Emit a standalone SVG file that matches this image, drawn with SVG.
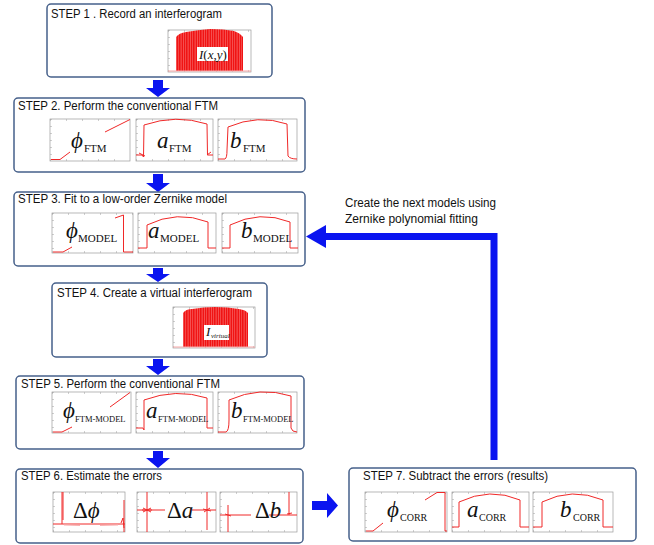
<svg xmlns="http://www.w3.org/2000/svg" width="654" height="545" viewBox="0 0 654 545">
<defs>
<style>
.box{fill:#fff;stroke:#46608a;stroke-width:1.5}
.ttl{font-family:"Liberation Sans",Arial,sans-serif;font-size:12px;fill:#111}
.fr{fill:#fff;stroke:#9a9a9a;stroke-width:0.7}
.tk{stroke:#a0a0a0;stroke-width:2;stroke-dasharray:0.5 15.5;fill:none}
.tv{stroke:#a0a0a0;stroke-width:2;stroke-dasharray:0.5 6.5;fill:none}
.cv{fill:none;stroke:#f02828;stroke-width:1}
.m{font-family:"Liberation Serif","Times New Roman","DejaVu Serif",serif;fill:#111}
.it{font-style:italic}
.big{font-size:23px}
.sub{font-size:11px}
.arr{fill:#0a14f0}
.base{stroke:#f7a8a8;stroke-width:1;fill:none}
</style>
<pattern id="fringe" patternUnits="userSpaceOnUse" width="7" height="60">
<rect width="7" height="60" fill="#f01414"/>
<rect x="1.2" y="0" width="0.5" height="60" fill="#ffc0c0" opacity="0.7"/>
<rect x="3.6" y="0" width="0.4" height="60" fill="#ffffff" opacity="0.55"/>
<rect x="5.8" y="0" width="0.5" height="60" fill="#ffc0c0" opacity="0.8"/>
</pattern>
</defs>

<g id="connectors">
<polygon class="arr" points="153,80 163,80 163,88 170,88 158,97 146,88 153,88"/>
<polygon class="arr" points="153,174 163,174 163,183 170,183 158,192 146,183 153,183"/>
<polygon class="arr" points="153,268 163,268 163,274 170,274 158,282 146,274 153,274"/>
<polygon class="arr" points="153,359 163,359 163,366 170,366 158,375 146,366 153,366"/>
<polygon class="arr" points="153,451 163,451 163,458 170,458 158,468 146,458 153,458"/>
<polygon class="arr" points="312,501 327,501 327,493 338,505.5 327,518 327,510 312,510"/>
<path d="M494,460 V236.5 H325" fill="none" stroke="#0a14f0" stroke-width="7"/>
<polygon class="arr" points="326,225 326,248 306,236.5"/>
<text class="ttl" x="345" y="207" font-size="11.5" textLength="151" lengthAdjust="spacingAndGlyphs">Create the next models using</text>
<text class="ttl" x="345" y="223" font-size="11.5" textLength="133" lengthAdjust="spacingAndGlyphs">Zernike polynomial fitting</text>
</g>

<g id="step1">
<rect class="box" x="47" y="4" width="225" height="73" rx="4"/>
<text class="ttl" x="51" y="18" textLength="171" lengthAdjust="spacingAndGlyphs">STEP 1 . Record an interferogram</text>
<rect class="fr" x="168" y="30" width="83" height="42"/>
<line class="tk" x1="168" y1="71" x2="251" y2="71"/><line class="tk" x1="168" y1="31" x2="251" y2="31"/><line class="tv" x1="169" y1="30" x2="169" y2="72"/>
<path d="M176,71 L176,37 Q179,33 186,32 Q198,30 210,29 Q224,29 234,31 Q240,33 243,37 L243,71 Z" fill="url(#fringe)"/>
<line class="base" x1="168" y1="71" x2="251" y2="71"/>
<rect x="197" y="47" width="31" height="14" fill="#fff"/>
<text class="m" x="199" y="58.5" font-size="13"><tspan class="it">I</tspan>(<tspan class="it">x</tspan>,<tspan class="it">y</tspan>)</text>
</g>

<g id="step2">
<rect class="box" x="14" y="98" width="291" height="74" rx="4"/>
<text class="ttl" x="18" y="110" textLength="200" lengthAdjust="spacingAndGlyphs">STEP 2. Perform the conventional FTM</text>
<rect class="fr" x="50" y="119" width="80" height="42"/>
<line class="tk" x1="50" y1="160" x2="130" y2="160"/><line class="tk" x1="50" y1="120" x2="130" y2="120"/><line class="tv" x1="51" y1="119" x2="51" y2="161"/>
<path class="cv" d="M51,159.5 L60,159.5 L70,152 M105,132 L130,119.5"/>
<text class="m it big" x="71" y="148">ϕ</text><text class="m sub" x="84" y="152">FTM</text>
<rect class="fr" x="136" y="119" width="77" height="42"/>
<line class="tk" x1="136" y1="160" x2="213" y2="160"/><line class="tk" x1="136" y1="120" x2="213" y2="120"/><line class="tv" x1="137" y1="119" x2="137" y2="161"/>
<path class="cv" d="M136,155 L142,155 L143.5,157 L144,125 Q176,114 207,124 L207.5,155 L213,155 M139,153 L145,156 M207,155 L211,152"/>
<text class="m it big" x="157" y="148">a</text><text class="m sub" x="169" y="152">FTM</text>
<rect class="fr" x="218" y="119" width="79" height="42"/>
<line class="tk" x1="218" y1="160" x2="297" y2="160"/><line class="tk" x1="218" y1="120" x2="297" y2="120"/><line class="tv" x1="219" y1="119" x2="219" y2="161"/>
<path class="cv" d="M218,159 L225,159 Q227,158 227,150 L228,127 Q258,114 287,124 L288,156 Q290,159 297,159"/>
<text class="m it big" x="230" y="148">b</text><text class="m sub" x="243" y="152">FTM</text>
</g>

<g id="step3">
<rect class="box" x="14" y="192" width="291" height="74" rx="4"/>
<text class="ttl" x="18" y="203" textLength="209" lengthAdjust="spacingAndGlyphs">STEP 3. Fit to a low-order Zernike model</text>
<rect class="fr" x="52" y="213" width="81" height="40"/>
<line class="tk" x1="52" y1="252" x2="133" y2="252"/><line class="tk" x1="52" y1="214" x2="133" y2="214"/><line class="tv" x1="53" y1="213" x2="53" y2="253"/>
<path class="cv" d="M53,252 L63,252 L72,247 M115,218 L123.5,215 L123.5,252 L133,252"/>
<text class="m it big" x="66" y="238">ϕ</text><text class="m sub" x="78" y="242">MODEL</text>
<rect class="fr" x="138" y="213" width="78" height="40"/>
<line class="tk" x1="138" y1="252" x2="216" y2="252"/><line class="tk" x1="138" y1="214" x2="216" y2="214"/><line class="tv" x1="139" y1="213" x2="139" y2="253"/>
<path class="cv" d="M138,248 L147,248 L147,225 Q177,210 208,222 L208,248 L216,248"/>
<text class="m it big" x="148" y="238">a</text><text class="m sub" x="160" y="242">MODEL</text>
<rect class="fr" x="222" y="213" width="76" height="40"/>
<line class="tk" x1="222" y1="252" x2="298" y2="252"/><line class="tk" x1="222" y1="214" x2="298" y2="214"/><line class="tv" x1="223" y1="213" x2="223" y2="253"/>
<path class="cv" d="M222,248 L230,248 L230,225 Q260,210 290,222 L290,248 L298,248"/>
<text class="m it big" x="241" y="238">b</text><text class="m sub" x="253" y="242">MODEL</text>
</g>

<g id="step4">
<rect class="box" x="52" y="283" width="215" height="74" rx="4"/>
<text class="ttl" x="57" y="297" font-size="12.5" textLength="195" lengthAdjust="spacingAndGlyphs">STEP 4. Create a virtual interferogram</text>
<rect class="fr" x="173" y="307" width="82" height="41"/>
<line class="tk" x1="173" y1="347" x2="255" y2="347"/><line class="tk" x1="173" y1="308" x2="255" y2="308"/><line class="tv" x1="174" y1="307" x2="174" y2="348"/>
<path d="M183,347 L183,313 Q186,309 192,309 Q204,307 215,307 Q228,307 239,309 Q246,310 248,313 L248,347 Z" fill="url(#fringe)"/>
<line class="base" x1="173" y1="347" x2="255" y2="347"/>
<rect x="204" y="325" width="25" height="15" fill="#fff"/>
<text class="m it" x="206" y="336" font-size="13">I</text><text class="m it" x="211" y="338" font-size="7">virtual</text>
</g>

<g id="step5">
<rect class="box" x="16" y="376" width="288" height="73" rx="4"/>
<text class="ttl" x="21" y="388" textLength="199" lengthAdjust="spacingAndGlyphs">STEP 5. Perform the conventional FTM</text>
<rect class="fr" x="52" y="392" width="79" height="41"/>
<line class="tk" x1="52" y1="432" x2="131" y2="432"/><line class="tk" x1="52" y1="393" x2="131" y2="393"/><line class="tv" x1="53" y1="392" x2="53" y2="433"/>
<path class="cv" d="M53,432 L62,432 L72,427 M110,407 L130,392.5"/>
<text class="m it big" x="63" y="418">ϕ</text><text class="m" x="75" y="422" font-size="8.5">FTM-MODEL</text>
<rect class="fr" x="136" y="392" width="77" height="41"/>
<line class="tk" x1="136" y1="432" x2="213" y2="432"/><line class="tk" x1="136" y1="393" x2="213" y2="393"/><line class="tv" x1="137" y1="392" x2="137" y2="433"/>
<path class="cv" d="M136,428 L143,428 L144,430 L144,400 Q176,388 207,398 L207,428 L213,428"/>
<text class="m it big" x="146" y="418">a</text><text class="m" x="158" y="422" font-size="8.5">FTM-MODEL</text>
<rect class="fr" x="218" y="392" width="79" height="41"/>
<line class="tk" x1="218" y1="432" x2="297" y2="432"/><line class="tk" x1="218" y1="393" x2="297" y2="393"/><line class="tv" x1="219" y1="392" x2="219" y2="433"/>
<path class="cv" d="M218,432 L226,432 Q229,431 229,420 L229,400 Q260,386 291,396 L291,428 Q292,432 297,432"/>
<text class="m it big" x="231" y="418">b</text><text class="m" x="243" y="422" font-size="8.5">FTM-MODEL</text>
</g>

<g id="step6">
<rect class="box" x="16" y="469" width="287" height="74" rx="4"/>
<text class="ttl" x="21" y="480" textLength="141" lengthAdjust="spacingAndGlyphs">STEP 6. Estimate the errors</text>
<rect class="fr" x="53" y="492" width="72" height="40"/>
<line class="tk" x1="53" y1="531" x2="125" y2="531"/><line class="tk" x1="53" y1="493" x2="125" y2="493"/><line class="tv" x1="54" y1="492" x2="54" y2="532"/>
<path class="cv" d="M53,524 L125,524 M62,492 L62,524 M63,492 L63,520 M124,500 L124,532 M121,523 L123,518 L124,528"/>
<path fill="none" stroke="#f8b0b0" stroke-width="1" d="M64,525 L80,525.5 M100,525.5 L118,525"/>
<text class="m big" x="73" y="518">Δ<tspan class="it">ϕ</tspan></text>
<rect class="fr" x="137" y="492" width="79" height="40"/>
<line class="tk" x1="137" y1="531" x2="216" y2="531"/><line class="tk" x1="137" y1="493" x2="216" y2="493"/><line class="tv" x1="138" y1="492" x2="138" y2="532"/>
<path class="cv" d="M137,510 L165,510 M192,510 L216,510 M147,492 L147,532 M143,508 L151,512 M143,512 L151,508 M142,510 L152,510 M207,492 L207,530 M203,509 L211,511 M204,512 L210,508"/>
<text class="m big" x="167" y="518">Δ<tspan class="it">a</tspan></text>
<rect class="fr" x="220" y="492" width="77" height="40"/>
<line class="tk" x1="220" y1="531" x2="297" y2="531"/><line class="tk" x1="220" y1="493" x2="297" y2="493"/><line class="tv" x1="221" y1="492" x2="221" y2="532"/>
<path class="cv" d="M220,515 L251,515 M228,505 L228,532 M225,514 L231,516 M269,515 L297,515 M289,492 L289,515 M287,514 L292,513"/>
<text class="m big" x="255" y="518">Δ<tspan class="it">b</tspan></text>
</g>

<g id="step7">
<rect class="box" x="349" y="468" width="287" height="73" rx="4"/>
<text class="ttl" x="363" y="480" textLength="185" lengthAdjust="spacingAndGlyphs">STEP 7. Subtract the errors (results)</text>
<rect class="fr" x="365" y="492" width="82" height="40"/>
<line class="tk" x1="365" y1="531" x2="447" y2="531"/><line class="tk" x1="365" y1="493" x2="447" y2="493"/><line class="tv" x1="366" y1="492" x2="366" y2="532"/>
<path class="cv" d="M366,531 L373,531 L383,523 M425,500 L437,492.5 L445,492.5 L445,531 L447,531"/>
<text class="m it big" x="387" y="517">ϕ</text><text class="m" x="400" y="521" font-size="10">CORR</text>
<rect class="fr" x="452" y="492" width="77" height="40"/>
<line class="tk" x1="452" y1="531" x2="529" y2="531"/><line class="tk" x1="452" y1="493" x2="529" y2="493"/><line class="tv" x1="453" y1="492" x2="453" y2="532"/>
<path class="cv" d="M452,527 L459,527 L459,502 Q490,487 520,500 L520,527 L529,527"/>
<text class="m it big" x="467" y="517">a</text><text class="m" x="479" y="521" font-size="10">CORR</text>
<rect class="fr" x="533" y="492" width="80" height="40"/>
<line class="tk" x1="533" y1="531" x2="613" y2="531"/><line class="tk" x1="533" y1="493" x2="613" y2="493"/><line class="tv" x1="534" y1="492" x2="534" y2="532"/>
<path class="cv" d="M533,527 L542,527 L542,502 Q572,487 603,500 L603,527 L613,527"/>
<text class="m it big" x="560" y="517">b</text><text class="m" x="573" y="521" font-size="10">CORR</text>
</g>
</svg>
